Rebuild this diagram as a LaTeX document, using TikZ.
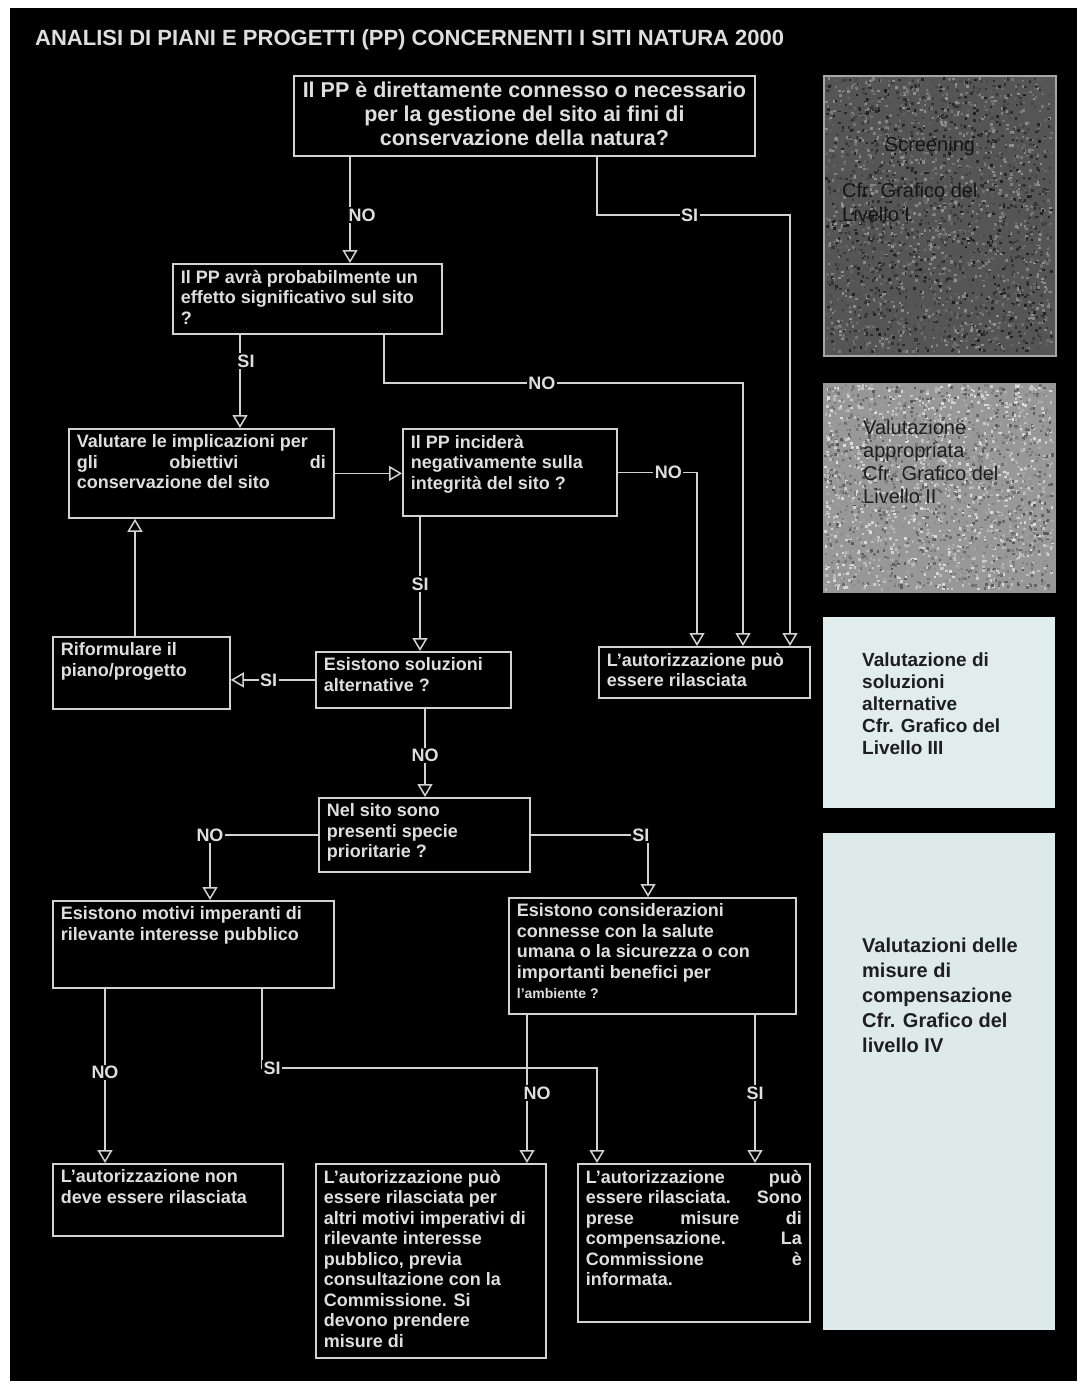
\documentclass[tikz,border=0pt]{standalone}
\usepackage{fontspec}
\setmainfont{Liberation Sans}
\usetikzlibrary{arrows.meta}
\definecolor{ln}{HTML}{D2D2D2}
\definecolor{tx}{HTML}{DEDEDE}
\definecolor{pone}{HTML}{555555}
\definecolor{ptwo}{HTML}{989898}
\definecolor{pthree}{HTML}{E1ECEC}
\definecolor{pfour}{HTML}{DEEAEA}
\definecolor{ptext}{HTML}{1E1E1E}
\definecolor{ponetext}{HTML}{151515}
\newcommand{\flowbox}[7]{%
  \pgfmathsetmacro{\flbw}{#4-#2}%
  \pgfmathsetmacro{\flbh}{#5-#3}%
  \pgfmathsetmacro{\fltw}{#4-#2-16}%
  \pgfmathsetmacro{\flth}{#5-#3-12}%
  \node[box, anchor=north west, minimum width=\flbw pt, minimum height=\flbh pt] (#1) at (#2,#3)
    {\parbox[c][\flth pt][t]{\fltw pt}{#6#7}};%
}
\newcommand{\sidepanel}[6]{%
  \pgfmathsetmacro{\flbw}{#4-#2}%
  \pgfmathsetmacro{\flbh}{#5-#3}%
  \node[#6, anchor=north west, minimum width=\flbw pt, minimum height=\flbh pt, inner sep=0pt] (#1) at (#2,#3) {};%
}
% random speckle inside a rectangle: x1,y1,w,h,count,low,high
\newcommand{\speckle}[7]{%
  \foreach \si in {1,...,#5}{%
    \pgfmathsetmacro{\spx}{#1+(#3-2.5)*rnd}%
    \pgfmathsetmacro{\spy}{#2+(#4-2.5)*rnd}%
    \pgfmathtruncatemacro{\spc}{#6+(#7-#6)*rnd}%
    \fill[white!\spc!black] (\spx,\spy) rectangle ++(2.5,2.5);%
  }%
}
\tikzset{
  box/.style={draw=ln, line width=1.8pt, fill=black, inner xsep=8pt, inner ysep=6pt,
    text=tx, font=\bfseries\fontsize{18}{20.5}\selectfont},
  arr/.style={draw=ln, line width=1.6pt,
    -{Triangle[open, length=13pt, width=15pt, line width=1.5pt]}},
  lbl/.style={fill=black, text=tx, inner sep=1.5pt, font=\bfseries\fontsize{18}{20}\selectfont},
  ptxt/.style={anchor=north west, align=left, inner sep=0pt, text=ptext}
}
\begin{document}
\begin{tikzpicture}[x={(1pt,0)}, y={(0,-1pt)}]
\pgfmathsetseed{4217}
\useasboundingbox (0,0) rectangle (1088,1389);
\fill[white] (0,0) rectangle (1088,1389);
\fill[black] (10,8) rectangle (1077,1381);

% title
\node[anchor=west, inner sep=0pt, text=tx, font=\bfseries\fontsize{22}{24}\selectfont] (title) at (35,40)
  {ANALISI DI PIANI E PROGETTI (PP) CONCERNENTI I SITI NATURA 2000};

% flow boxes
\flowbox{b1}{293}{75}{754}{155}{\fontsize{21.5}{24}\selectfont\centering}
  {Il PP è direttamente connesso o necessario\\ per la gestione del sito ai fini di\\ conservazione della natura?}
\flowbox{b2}{172}{263}{441}{333}{\raggedright}
  {Il PP avrà probabilmente un\\ effetto significativo sul sito\\ ?}
\flowbox{b3}{68}{428}{333}{517}{\raggedright}
  {Valutare le implicazioni per\\ gli\hfill obiettivi\hfill di\\ conservazione del sito}
\flowbox{b4}{402}{428}{616}{515}{\raggedright}
  {Il PP inciderà\\ negativamente sulla\\ integrità del sito ?}
\flowbox{b5}{52}{636}{229}{708}{\raggedright}
  {Riformulare il\\ piano/progetto}
\flowbox{b6}{315}{651}{510}{707}{\raggedright}
  {Esistono soluzioni\\ alternative ?}
\flowbox{b7}{598}{646}{809}{697}{\raggedright}
  {L'autorizzazione può\\ essere rilasciata}
\flowbox{b8}{318}{797}{529}{871}{\raggedright}
  {Nel sito sono\\ presenti specie\\ prioritarie ?}
\flowbox{b9}{52}{900}{333}{987}{\raggedright}
  {Esistono motivi imperanti di\\ rilevante interesse pubblico}
\flowbox{b10}{508}{897}{795}{1013}{\raggedright}
  {Esistono considerazioni\\ connesse con la salute\\ umana o la sicurezza o con\\ importanti benefici per\\ {\fontsize{14}{20.5}\selectfont l'ambiente ?}}
\flowbox{b11}{52}{1163}{282}{1235}{\raggedright}
  {L'autorizzazione non\\ deve essere rilasciata}
\flowbox{b12}{315}{1163}{545}{1357}{\raggedright}
  {L'autorizzazione può\\ essere rilasciata per\\ altri motivi imperativi di\\ rilevante interesse\\ pubblico, previa\\ consultazione con la\\ Commissione. Si\\ devono prendere\\ misure di}
\flowbox{b13}{577}{1163}{809}{1321}{\raggedright}
  {L'autorizzazione\hfill può\\ essere rilasciata.\hfill Sono\\ prese\hfill misure\hfill di\\ compensazione.\hfill La\\ Commissione\hfill è\\ informata.}

% side panels
\sidepanel{p1}{823}{75}{1055}{355}{draw=gray!70, line width=1.5pt, fill=pone}
\sidepanel{p2}{823}{383}{1055}{592}{draw=gray!80, line width=1pt, fill=ptwo}
\sidepanel{p3}{823}{617}{1055}{808}{fill=pthree}
\sidepanel{p4}{823}{833}{1055}{1330}{fill=pfour}
\speckle{825}{77}{228}{276}{3000}{12}{58}
\speckle{824}{384}{230}{207}{2600}{35}{88}

\node[inner sep=0pt, text=ponetext, font=\fontsize{20}{24}\selectfont] (p1a) at (930,146) {Screening};
\node[ptxt, text=ponetext, font=\fontsize{20}{24}\selectfont] (p1b) at (842,183) {Cfr. Grafico del\\ Livello I};
\node[ptxt, font=\fontsize{20}{23}\selectfont] (p2t) at (863,420)
  {Valutazione\\ appropriata\\ Cfr. Grafico del\\ Livello II};
\node[ptxt, font=\bfseries\fontsize{19}{22}\selectfont] (p3t) at (862,653)
  {Valutazione di\\ soluzioni\\ alternative\\ Cfr. Grafico del\\ Livello III};
\node[ptxt, font=\bfseries\fontsize{20}{25}\selectfont] (p4t) at (862,938)
  {Valutazioni delle\\ misure di\\ compensazione\\ Cfr. Grafico del\\ livello IV};

% connectors
\coordinate (k1) at (790,215);
\coordinate (k2) at (743,383);
\coordinate (k4) at (597,1068);

\draw[arr] ([xshift=57pt]b1.south west) -- node[lbl, pos=0.55, xshift=12pt]{NO} ([xshift=178pt]b2.north west);
\draw[arr] ([xshift=304pt]b1.south west) |- node[lbl, pos=0.74]{SI} (k1) -- ([xshift=192pt]b7.north west);
\draw[arr] ([xshift=68pt]b2.south west) -- node[lbl, pos=0.28, xshift=6pt]{SI} ([xshift=172pt]b3.north west);
\draw[arr] ([xshift=212pt]b2.south west) |- node[lbl, pos=0.72]{NO} (k2) -- ([xshift=145pt]b7.north west);
\draw[arr] (b3.east) -- (b3.east -| b4.west);
\draw[arr] (b4.east) -| node[lbl, pos=0.32]{NO} ([xshift=99pt]b7.north west);
\draw[arr] ([xshift=18pt]b4.south west) -- node[lbl, pos=0.5]{SI} ([xshift=105pt]b6.north west);
\draw[arr] (b6.west) -- node[lbl, pos=0.55]{SI} (b6.west -| b5.east);
\draw[arr] ([xshift=83pt]b5.north west) -- ([xshift=67pt]b3.south west);
\draw[arr] ([xshift=110pt]b6.south west) -- node[lbl, pos=0.53]{NO} ([xshift=107pt]b8.north west);
\draw[arr] (b8.west) -| node[lbl, pos=0.5]{NO} ([xshift=158pt]b9.north west);
\draw[arr] (b8.east) -| node[lbl, pos=0.47]{SI} ([xshift=140pt]b10.north west);
\draw[arr] ([xshift=53pt]b9.south west) -- node[lbl, pos=0.48]{NO} ([xshift=53pt]b11.north west);
\draw[arr] ([xshift=210pt]b9.south west) |- node[lbl, pos=0.5, xshift=10pt]{SI} (k4) -- ([xshift=20pt]b13.north west);
\draw[arr] ([xshift=19pt]b10.south west) -- node[lbl, pos=0.53, xshift=10pt]{NO} ([xshift=212pt]b12.north west);
\draw[arr] ([xshift=247pt]b10.south west) -- node[lbl, pos=0.53]{SI} ([xshift=178pt]b13.north west);
\end{tikzpicture}
\end{document}
